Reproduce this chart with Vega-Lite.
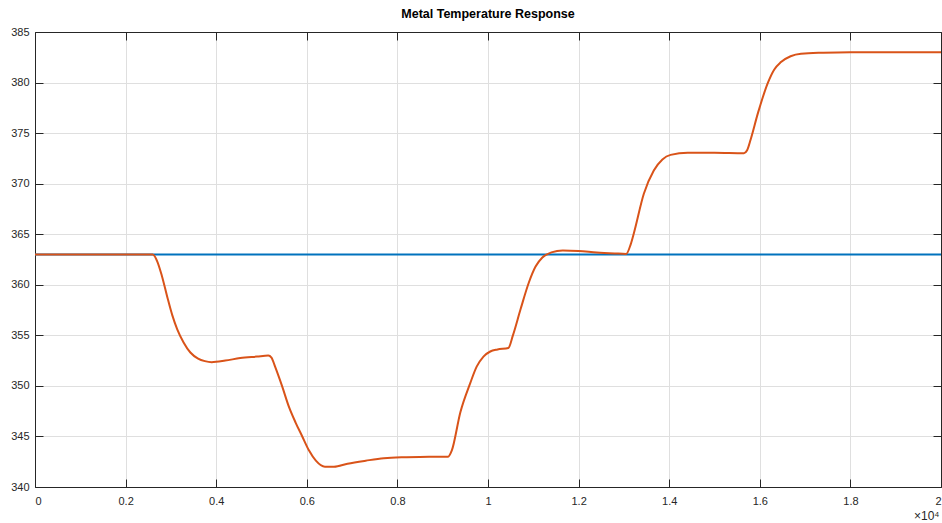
{
  "$schema": "https://vega.github.io/schema/vega-lite/v6.json",
  "width": 906,
  "height": 455,
  "autosize": {"type": "none"},
  "padding": {"left": 35, "top": 32, "right": 1, "bottom": 36},
  "background": "white",
  "title": {
    "text": "Metal Temperature Response",
    "font": "Liberation Sans",
    "fontSize": 12.5,
    "fontWeight": "bold",
    "color": "#000000",
    "offset": 6
  },
  "config": {
    "view": {"stroke": null},
    "axis": {
      "labelFont": "Liberation Sans",
      "labelFontSize": 11,
      "labelColor": "#262626",
      "domainColor": "#262626",
      "tickColor": "#262626",
      "gridColor": "#dfdfdf",
      "gridWidth": 1
    }
  },
  "datasets": {
    "reference": [
      {"t": 0, "temp": 363},
      {"t": 2, "temp": 363}
    ],
    "metal": [
      {"t": 0, "temp": 363},
      {"t": 0.26, "temp": 363},
      {"t": 0.27, "temp": 362.3},
      {"t": 0.28, "temp": 360.9},
      {"t": 0.292, "temp": 358.8},
      {"t": 0.303, "temp": 357.0},
      {"t": 0.314, "temp": 355.6},
      {"t": 0.328, "temp": 354.3},
      {"t": 0.343, "temp": 353.3},
      {"t": 0.36, "temp": 352.7},
      {"t": 0.375, "temp": 352.45},
      {"t": 0.39, "temp": 352.35},
      {"t": 0.42, "temp": 352.5},
      {"t": 0.453, "temp": 352.75},
      {"t": 0.49, "temp": 352.9},
      {"t": 0.515, "temp": 353.0},
      {"t": 0.522, "temp": 352.8},
      {"t": 0.53, "temp": 351.9},
      {"t": 0.546, "temp": 349.9},
      {"t": 0.56, "temp": 348.0},
      {"t": 0.575, "temp": 346.4},
      {"t": 0.59, "temp": 345.0},
      {"t": 0.605, "temp": 343.6},
      {"t": 0.62, "temp": 342.6},
      {"t": 0.64, "temp": 342.0},
      {"t": 0.66, "temp": 342.0},
      {"t": 0.69, "temp": 342.3},
      {"t": 0.73, "temp": 342.6},
      {"t": 0.77, "temp": 342.85},
      {"t": 0.82, "temp": 342.95},
      {"t": 0.87, "temp": 343.0},
      {"t": 0.912, "temp": 343.0},
      {"t": 0.92, "temp": 343.6},
      {"t": 0.939, "temp": 347.4},
      {"t": 0.961, "temp": 350.3},
      {"t": 0.975, "temp": 351.9},
      {"t": 0.99, "temp": 352.9},
      {"t": 1.005, "temp": 353.4},
      {"t": 1.021, "temp": 353.6},
      {"t": 1.045, "temp": 353.75},
      {"t": 1.055, "temp": 355.0},
      {"t": 1.072, "temp": 357.6},
      {"t": 1.09, "temp": 360.2},
      {"t": 1.105, "temp": 361.8},
      {"t": 1.12, "temp": 362.7},
      {"t": 1.14, "temp": 363.2},
      {"t": 1.165, "temp": 363.4},
      {"t": 1.2, "temp": 363.35},
      {"t": 1.24, "temp": 363.2},
      {"t": 1.28, "temp": 363.1},
      {"t": 1.305, "temp": 363.05},
      {"t": 1.315, "temp": 364.0},
      {"t": 1.322, "temp": 365.1},
      {"t": 1.344, "temp": 369.0},
      {"t": 1.366, "temp": 371.3},
      {"t": 1.385, "temp": 372.4},
      {"t": 1.403, "temp": 372.85},
      {"t": 1.441, "temp": 373.05},
      {"t": 1.5, "temp": 373.05},
      {"t": 1.565, "temp": 373.0},
      {"t": 1.572, "temp": 373.3},
      {"t": 1.58, "temp": 374.4},
      {"t": 1.596, "temp": 377.0},
      {"t": 1.618, "temp": 380.0},
      {"t": 1.632, "temp": 381.3},
      {"t": 1.646, "temp": 382.0},
      {"t": 1.668, "temp": 382.6},
      {"t": 1.691, "temp": 382.85},
      {"t": 1.74, "temp": 382.95},
      {"t": 1.8, "temp": 383.0},
      {"t": 2.0, "temp": 383.0}
    ]
  },
  "resolve": {"axis": {"x": "independent", "y": "independent"}},
  "layer": [
    {
      "data": {"name": "reference"},
      "mark": {"type": "line", "color": "#0072BD", "strokeWidth": 2},
      "encoding": {
        "x": {
          "field": "t", "type": "quantitative",
          "scale": {"domain": [0, 2], "nice": false, "zero": false},
          "axis": {
            "orient": "top", "title": null, "labels": false, "grid": false,
            "values": [0, 0.2, 0.4, 0.6, 0.8, 1, 1.2, 1.4, 1.6, 1.8, 2],
            "tickSize": -8, "domainWidth": 1
          }
        },
        "y": {
          "field": "temp", "type": "quantitative",
          "scale": {"domain": [340, 385], "nice": false, "zero": false},
          "axis": {
            "orient": "right", "title": null, "labels": false, "grid": false,
            "values": [340, 345, 350, 355, 360, 365, 370, 375, 380, 385],
            "tickSize": -8
          }
        }
      }
    },
    {
      "data": {"name": "metal"},
      "mark": {"type": "line", "color": "#D95319", "strokeWidth": 2, "interpolate": "monotone"},
      "encoding": {
        "x": {
          "field": "t", "type": "quantitative",
          "scale": {"domain": [0, 2], "nice": false, "zero": false},
          "axis": {
            "orient": "bottom",
            "values": [0, 0.2, 0.4, 0.6, 0.8, 1, 1.2, 1.4, 1.6, 1.8, 2],
            "format": "~g",
            "tickSize": -8,
            "labelPadding": 16,
            "grid": true,
            "title": "×10⁴",
            "titleFont": "Liberation Sans",
            "titleFontSize": 12,
            "titleFontWeight": "normal",
            "titleColor": "#262626",
            "titleAlign": "right",
            "titleBaseline": "alphabetic",
            "titleX": 904,
            "titleY": 32
          }
        },
        "y": {
          "field": "temp", "type": "quantitative",
          "scale": {"domain": [340, 385], "nice": false, "zero": false},
          "axis": {
            "orient": "left",
            "values": [340, 345, 350, 355, 360, 365, 370, 375, 380, 385],
            "tickSize": -8,
            "labelPadding": 14,
            "grid": true,
            "title": null
          }
        }
      }
    }
  ]
}
